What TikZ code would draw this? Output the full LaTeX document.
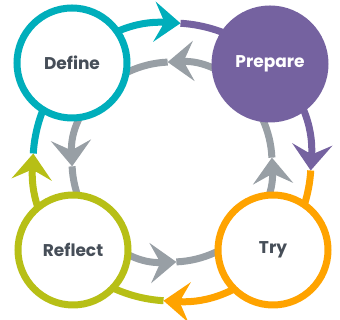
\documentclass[tikz,border=0pt]{standalone}
\usepackage{fontspec}
\setmainfont{Poppins}
\usepackage{tikz}
\usetikzlibrary{arrows.meta,backgrounds}
\definecolor{cycteal}{RGB}{0,174,187}
\definecolor{cycpurple}{RGB}{117,98,160}
\definecolor{cycorange}{RGB}{255,163,0}
\definecolor{cycgreen}{RGB}{183,191,22}
\definecolor{cycgray}{RGB}{152,159,165}
\definecolor{cyctext}{RGB}{70,78,88}

\begin{document}
\begin{tikzpicture}[x=1pt,y=1pt,
    stage/.style={circle, line width=7pt, minimum size=110pt, fill=white,
      text=cyctext, font=\fontsize{17}{18}\selectfont\bfseries},
    ringarrow/.style={line width=7pt, -{Stealth[length=26pt,width=40pt,inset=10pt]}}]
  \useasboundingbox (0,0) rectangle (340,320);
  \coordinate (ring) at (172,158);
  \node[stage, draw=cycteal] (define) at (72,257) {Define};
  \node[stage, draw=cycpurple, fill=cycpurple, text=white] (prepare) at (270,256) {Prepare};
  \node[stage, draw=cycorange] (try) at (273,70) {Try};
  \node[stage, draw=cycgreen] (reflect) at (73,70) {Reflect};
  % outer ring clockwise, inner ring counter-clockwise
  \begin{scope}[on background layer]
    \foreach \a/\col in {176.5/cycteal, 86.5/cycpurple, -3.5/cycorange, -93.5/cycgreen}
      \draw[ringarrow, \col] (ring) ++(\a:139) arc[start angle=\a, end angle=\a-90, radius=139];
    \foreach \a [evaluate=\a as \b using \a-90] in {2.5,92.5,182.5,272.5}
      \draw[ringarrow, cycgray] (ring) ++(\b:100) arc[start angle=\b, end angle=\a, radius=100];
  \end{scope}
\end{tikzpicture}
\end{document}
